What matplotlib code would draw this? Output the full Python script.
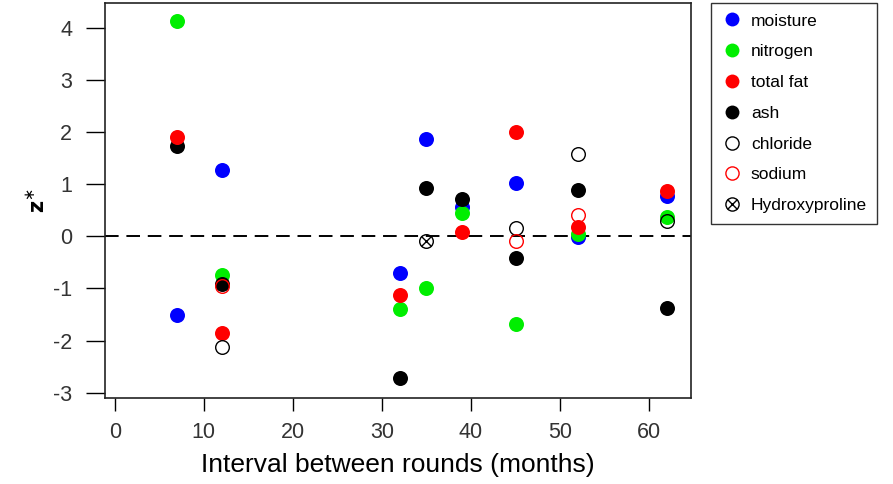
import matplotlib
matplotlib.use("Agg")
import matplotlib.pyplot as plt
from matplotlib.lines import Line2D
from matplotlib.legend_handler import HandlerTuple

plt.rcParams['font.family'] = ['Liberation Sans', 'DejaVu Sans']
plt.rcParams['axes.unicode_minus'] = False

# interval (months) and z* values
moist_x = [7, 12, 32, 35, 39, 45, 52, 62]
moist_y = [-1.50, 1.27, -0.70, 1.86, 0.57, 1.02, -0.02, 0.78]

nitro_x = [7, 12, 32, 35, 39, 45, 52, 62]
nitro_y = [4.12, -0.75, -1.40, -0.99, 0.44, -1.69, 0.04, 0.37]

ash_x = [7, 12, 32, 35, 39, 45, 52, 62]
ash_y = [1.72, -0.92, -2.72, 0.93, 0.72, -0.42, 0.89, -1.38]

fat_x = [7, 12, 32, 39, 45, 52, 62]
fat_y = [1.90, -1.86, -1.12, 0.08, 2.00, 0.17, 0.86]

chlor_x = [12, 45, 52, 62]
chlor_y = [-2.13, 0.15, 1.57, 0.29]

sodium_x = [12, 45, 52]
sodium_y = [-0.95, -0.09, 0.40]

hyp_x = [35]
hyp_y = [-0.09]

fig = plt.figure(figsize=(8.93, 4.84), dpi=100)
ax = fig.add_axes([105/893, 1 - 398/484, (691 - 105)/893, (398 - 3)/484])

ms = 10.8
ax.axhline(0, color='black', lw=1.4, ls=(0, (7, 4)), zorder=1)

ax.plot(moist_x, moist_y, 'o', color='#0000ff', ms=ms, mew=0, zorder=3)
ax.plot(nitro_x, nitro_y, 'o', color='#00ee00', ms=ms, mew=0, zorder=4)
ax.plot(ash_x, ash_y, 'o', color='black', ms=ms, mew=0, zorder=5)
ax.plot(fat_x, fat_y, 'o', color='#ff0000', ms=ms, mew=0, zorder=6)
ax.plot(chlor_x, chlor_y, 'o', mfc='none', mec='black', ms=ms - 1, mew=1.0, zorder=7)
ax.plot(sodium_x, sodium_y, 'o', mfc='none', mec='#ff0000', ms=ms - 1, mew=1.0, zorder=7)
ax.plot(hyp_x, hyp_y, 'o', mfc='none', mec='black', ms=ms - 1, mew=1.0, zorder=8)
ax.plot(hyp_x, hyp_y, 'x', color='black', ms=6.5, mew=1.0, zorder=8)

ax.set_xlim(-1.1, 64.7)
ax.set_ylim(-3.1, 4.47)
ax.set_xticks([0, 10, 20, 30, 40, 50, 60])
ax.set_yticks([-3, -2, -1, 0, 1, 2, 3, 4])
ax.tick_params(axis='x', length=9.5, width=1.0, labelsize=15.5, pad=8, labelcolor='#333333')
ax.tick_params(axis='y', length=13.5, width=1.0, labelsize=15.5, pad=10, labelcolor='#333333')
for s in ax.spines.values():
    s.set_linewidth(1.2)
    s.set_color('#222222')

ax.set_xlabel('Interval between rounds (months)', fontsize=19, labelpad=7)
ax.set_ylabel(r'$\mathbf{z}^{\ast}$', fontsize=15, labelpad=3)

handles = [
    Line2D([], [], ls='none', marker='o', color='#0000ff', ms=10, mew=0),
    Line2D([], [], ls='none', marker='o', color='#00ee00', ms=10, mew=0),
    Line2D([], [], ls='none', marker='o', color='#ff0000', ms=10, mew=0),
    Line2D([], [], ls='none', marker='o', color='black', ms=10, mew=0),
    Line2D([], [], ls='none', marker='o', mfc='none', mec='black', ms=9.5, mew=1.0),
    Line2D([], [], ls='none', marker='o', mfc='none', mec='#ff0000', ms=9.5, mew=1.0),
    (Line2D([], [], ls='none', marker='o', mfc='none', mec='black', ms=9.5, mew=1.0),
     Line2D([], [], ls='none', marker='x', color='black', ms=6.5, mew=1.0)),
]
labels = ['moisture', 'nitrogen', 'total fat', 'ash', 'chloride', 'sodium', 'Hydroxyproline']
leg = fig.legend(handles, labels, loc='upper left', bbox_to_anchor=(711/893, 1 - 3/484),
                 frameon=True, fancybox=False, edgecolor='black', fontsize=12.5,
                 handlelength=1.2, handletextpad=0.5, labelspacing=0.9, borderpad=0.6,
                 borderaxespad=0, handler_map={tuple: HandlerTuple(ndivide=1)})
leg.get_frame().set_linewidth(1.0)

fig.savefig('out.png', dpi=100)
